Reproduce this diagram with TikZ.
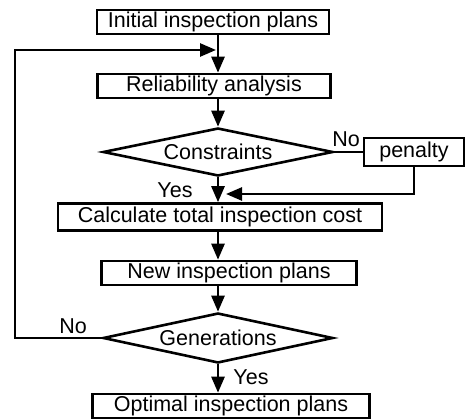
\documentclass[tikz,border=0pt]{standalone}
\usepackage{fontspec}
\setmainfont{Liberation Sans}
\usetikzlibrary{arrows.meta,shapes.geometric}

\begin{document}
\begin{tikzpicture}[x=1pt,y=-1pt,font=\fontsize{21.5}{25}\selectfont,
  line width=2.6pt,
  stepbox/.style={draw,rectangle,inner sep=0pt,minimum height=24pt},
  testbox/.style={draw,diamond,inner sep=0pt,shape aspect=4.8,
    minimum width=230pt,minimum height=48pt},
  flow/.style={-{Triangle[length=16pt,width=13pt]}}]
\path[use as bounding box] (0,0) rectangle (471,419);
% main column of the search loop
\node[stepbox,minimum width=232pt] (init) at (213,22) {Initial inspection plans};
\node[stepbox,minimum width=233pt] (rel) at (214,86) {Reliability analysis};
\node[testbox] (cons) at (218,152) {Constraints};
\node[stepbox,minimum width=100pt,minimum height=28pt] (pen) at (414,152) {penalty};
\node[stepbox,minimum width=324pt,minimum height=27pt] (cost) at (220,217)
  {Calculate total inspection cost};
\node[stepbox,minimum width=255pt] (new) at (229,273) {New inspection plans};
\node[testbox,minimum height=50pt] (gen) at (218,338) {Generations};
\node[stepbox,minimum width=277pt] (opt) at (231,406) {Optimal inspection plans};
% decision labels
\node (no1) at (346,139) {No};
\node (yes1) at (175,190) {Yes};
\node (no2) at (73,326) {No};
\node (yes2) at (251,377) {Yes};
\coordinate (spine) at (218,0);
\coordinate (ret) at (226,194);
\coordinate (loop) at (15,50);
\coordinate (back) at (216,50);
\draw[flow] (init.south -| spine) -- (rel.north -| spine);
\draw[flow] (rel.south -| spine) -- (cons.north);
\draw (cons.east) -- (pen.west);
\draw[flow] (pen.south) |- (ret);
\draw[flow] (cons.south) -- (cost.north -| spine);
\draw[flow] (cost.south -| spine) -- (new.north -| spine);
\draw[flow] (new.south -| spine) -- (gen.north);
\draw[flow] (gen.south) -- (opt.north -| spine);
\draw[flow] (gen.west) -| (loop) -- (back);
\end{tikzpicture}
\end{document}
